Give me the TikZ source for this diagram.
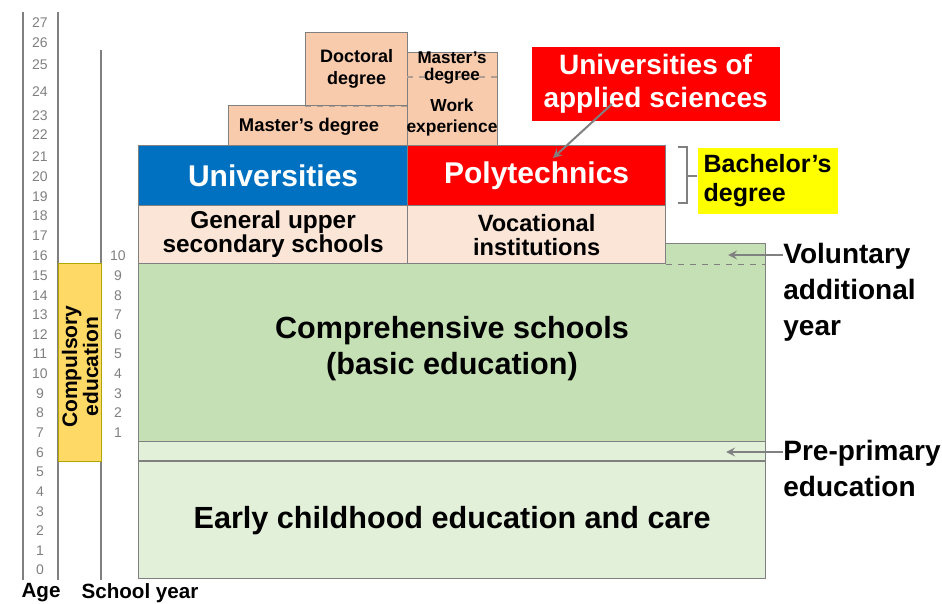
\documentclass[tikz,border=0pt]{standalone}
\usepackage{fontspec}
\setmainfont{Liberation Sans}
\usetikzlibrary{positioning}
\definecolor{uniblue}{HTML}{0070C0}
\definecolor{polyred}{HTML}{FF0000}
\definecolor{degpeach}{HTML}{F8CBAD}
\definecolor{secpeach}{HTML}{FBE5D6}
\definecolor{compgreen}{HTML}{C5E0B4}
\definecolor{earlygreen}{HTML}{E2F0D9}
\definecolor{compyellow}{HTML}{FFD966}
\definecolor{bachyellow}{HTML}{FFFF00}
\newcommand{\fs}[2]{\fontsize{#1}{#2}\selectfont}
\tikzset{
  blk/.style={draw=gray, line width=0.6pt, anchor=north west, inner sep=0pt, align=center, font=\bfseries},
  lbl/.style={inner sep=0pt, align=left, anchor=north west, font=\bfseries\fs{14}{18}},
  agenum/.style={text=gray, font=\fs{7}{8}, inner sep=0pt},
  arr/.style={->, draw=gray, line width=1pt},
}
\begin{document}
\begin{tikzpicture}[x=0.5pt, y=-0.5pt, >=stealth]
  \useasboundingbox (0,0) rectangle (942,604);
  \draw[gray, line width=1pt] (23,12) -- (23,580) (58,12) -- (58,580) (101,50) -- (101,580);
  \foreach \a/\y in {27/23,26/43,25/65,24/92,23/116,22/135,21/157,20/177,19/197,18/216,17/236}
    \node[agenum] (age\a) at (40,\y) {\a};
  \foreach \a in {0,...,16}
    \node[agenum] (age\a) at (40,{256+(16-\a)*19.63}) {\a};
  \foreach \s in {1,...,10}
    \node[agenum] (yr\s) at (118,{256+(10-\s)*19.63}) {\s};
  \node[font=\bfseries\fs{10.3}{12}] (ageLbl) at (41,593) {Age};
  \node[font=\bfseries\fs{10.3}{12}] (yrLbl) at (140,593) {School year};
  \node[blk, draw=olive!70!yellow, fill=compyellow, minimum width=21.5pt, minimum height=99pt] (compul) at (58,263) {};
  \node[rotate=90, align=center, font=\bfseries\fs{10.5}{10.5}] (compulTxt) at ([yshift=-2pt]compul.center) {Compulsory\\education};

  \node[blk, fill=compgreen, minimum width=313.5pt, minimum height=99pt] (comp) at (138,243) {};
  \node[blk, fill=earlygreen, minimum width=313.5pt, minimum height=10pt] (prep) at (138,441) {};
  \node[blk, fill=earlygreen, minimum width=313.5pt, minimum height=58.5pt, font=\bfseries\fs{15.3}{18}] (early) at (138,461) {Early childhood education and care};
  \draw[gray, line width=1.2pt] (early.north west) -- (early.north east);
  \node[align=center, font=\bfseries\fs{15.3}{18}] (compTxt) at (452,349) {Comprehensive schools\\(basic education)};

  \node[blk, fill=secpeach, minimum width=134.5pt, minimum height=29pt, font=\bfseries\fs{12.2}{12}] (gen) at (138,205) {General upper\\secondary schools};
  \node[blk, fill=secpeach, minimum width=129pt, minimum height=29pt, font=\bfseries\fs{11.8}{12}] (voc) at (407,205) {Vocational\\institutions};
  \draw[gray, dashed, line width=0.6pt] (voc.south east) -- (comp.east |- voc.south);
  \node[blk, fill=uniblue, text=white, minimum width=134.5pt, minimum height=30pt, font=\bfseries\fs{15}{18}] (univ) at (138,145) {Universities};
  \node[blk, fill=polyred, text=white, minimum width=129pt, minimum height=30pt, font=\bfseries\fs{15}{18}] (poly) at (407,145) {Polytechnics};

  \node[blk, fill=degpeach, minimum width=51pt, minimum height=36.5pt, font=\bfseries\fs{9}{11}] (doc) at (305,32) {Doctoral\\degree};
  \node[blk, fill=degpeach, minimum width=89.5pt, minimum height=20pt] (mast) at (228,105) {};
  \node[font=\bfseries\fs{9.2}{11}] (mastTxt) at (309,127) {Master's degree};
  \draw[degpeach!40!gray, dashed, line width=0.6pt] (doc.south west) -- (doc.south east);
  \node[blk, fill=degpeach, minimum width=45pt, minimum height=46.5pt] (rcol) at (407,52) {};
  \draw[degpeach!40!gray, dashed, line width=0.6pt] (407,77) -- (rcol.east |- 0,77);
  \node[align=center, font=\bfseries\fs{8.5}{8.6}] (mastRTxt) at (452,68) {Master's\\degree};
  \node[align=center, font=\bfseries\fs{8.7}{10.5}] (workTxt) at (452,118) {Work\\experience};

  \node[blk, draw=none, fill=polyred, text=white, minimum width=124pt, minimum height=37pt, font=\bfseries\fs{14}{16.5}] (uas) at (531,46) {Universities of\\applied sciences};
  \coordinate (uasTail) at (612,104);
  \coordinate (polyTip) at (553,158);
  \draw[arr] (uasTail) -- (polyTip);

  \node[blk, draw=none, fill=bachyellow, minimum width=70pt, minimum height=33pt, align=left, font=\bfseries\fs{12.5}{14.5}] (bach) at (697,147) {Bachelor's\\degree};
  \draw[gray, line width=0.8pt] (678,147) -- (687,147) -- (687,203) -- (678,203) (687,176) -- (bach.west |- 0,176);

  \node[lbl] (vol) at (783,243) {Voluntary\\additional\\year};
  \coordinate (volTip) at (728,255);
  \draw[arr] (vol.west |- volTip) -- (volTip);
  \node[lbl] (pre) at (783,440) {Pre-primary\\education};
  \coordinate (preTip) at (726,452);
  \draw[arr] (pre.west |- preTip) -- (preTip);
\end{tikzpicture}
\end{document}
